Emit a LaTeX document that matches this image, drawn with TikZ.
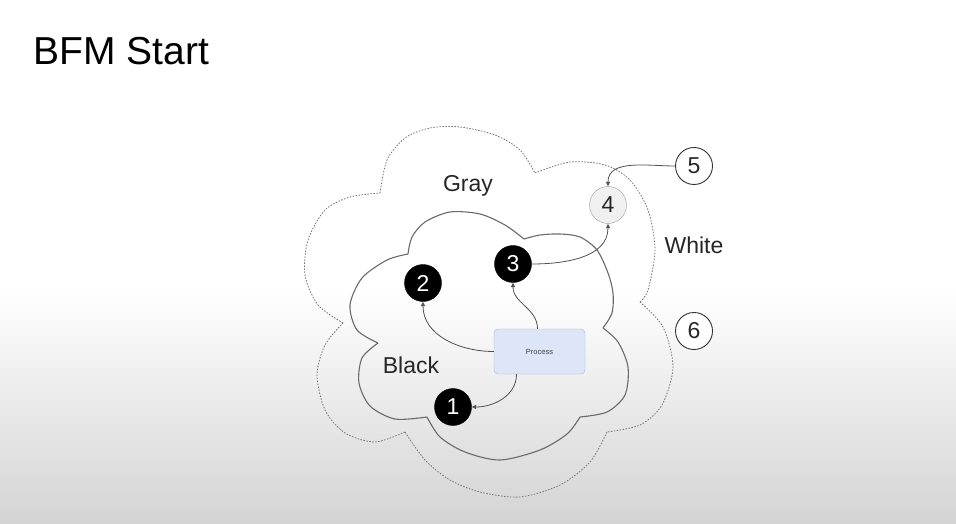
\documentclass[tikz,border=0pt]{standalone}
\usepackage{fontspec}
\setmainfont{Liberation Sans}
\usetikzlibrary{arrows.meta}
\definecolor{cloudgray}{HTML}{6A6A6A}
\definecolor{arrowgray}{HTML}{505050}
\definecolor{procfill}{HTML}{DCE6F8}
\definecolor{procdraw}{HTML}{A6B6D6}

\begin{document}
\begin{tikzpicture}[x=1pt,y=1pt,
	blacknode/.style = {circle, draw=black, fill=black, text=white, minimum size=37pt, inner sep=0pt, font=\fontsize{23}{23}\selectfont},
	graynode/.style = {circle, draw=black!40, fill=black!6, text=black!85, minimum size=37pt, inner sep=0pt, font=\fontsize{23}{23}\selectfont},
	whitenode/.style = {circle, draw=black!80, line width=0.9pt, fill=white, text=black!85, minimum size=37pt, inner sep=0pt, font=\fontsize{23}{23}\selectfont},
	area/.style = {anchor=base, text=black!85, font=\fontsize{23}{23}\selectfont},
	process/.style = {draw=procdraw, fill=procfill, rounded corners=4pt, minimum width=91pt, minimum height=45pt, text=black!75, font=\fontsize{7.5}{7.5}\selectfont},
	solidcloud/.style = {draw=cloudgray, line width=1.1pt},
	dashcloud/.style = {draw=black!55, line width=0.8pt, dash pattern=on 1.5pt off 1.5pt},
	link/.style = {draw=arrowgray, line width=0.8pt, -{Triangle[length=4.5pt,width=4pt]}}]
	\useasboundingbox (0,0) rectangle (956,-524);
	\fill[white] (0,0) rectangle (956,-291);
	\shade[top color=white, bottom color=black!17] (0,-290) rectangle (956,-524);

	\node[anchor=base west, font=\fontsize{39}{39}\selectfont] (title) at (30,-65) {BFM Start};

	\draw[dashcloud] plot[smooth] coordinates {(380,-193) (387,-160) (405,-138) (430,-128) (460,-127) (495,-135) (520,-150) (535,-173)};
	\draw[dashcloud] plot[smooth] coordinates {(535,-173) (570,-162) (605,-165) (630,-180) (648,-210) (655,-250) (648,-290) (640,-302)};
	\draw[dashcloud] plot[smooth] coordinates {(640,-302) (663,-327) (673,-367) (662,-405) (640,-425) (607,-432)};
	\draw[dashcloud] plot[smooth] coordinates {(607,-432) (590,-462) (560,-485) (520,-497) (480,-492) (450,-480) (425,-460) (405,-432)};
	\draw[dashcloud] plot[smooth] coordinates {(405,-432) (375,-442) (345,-433) (325,-410) (317,-375) (325,-345) (343,-323)};
	\draw[dashcloud] plot[smooth] coordinates {(343,-323) (318,-305) (305,-275) (308,-240) (325,-210) (350,-197) (380,-193)};

	\draw[solidcloud] plot[smooth] coordinates {(408,-254) (387,-260) (362,-278) (350,-305) (357,-330) (378,-343)};
	\draw[solidcloud] plot[smooth] coordinates {(378,-343) (362,-358) (359,-383) (370,-406) (395,-419) (427,-417)};
	\draw[solidcloud] plot[smooth] coordinates {(427,-417) (440,-437) (465,-452) (500,-460) (540,-450) (567,-434) (580,-417)};
	\draw[solidcloud] plot[smooth] coordinates {(580,-417) (607,-412) (625,-395) (628,-367) (618,-342) (603,-328)};
	\draw[solidcloud] plot[smooth] coordinates {(603,-328) (612,-313) (613,-293) (608,-273) (597,-250) (580,-237) (560,-234) (540,-235) (524,-239)};
	\draw[solidcloud] plot[smooth] coordinates {(524,-239) (505,-225) (480,-214) (450,-212) (425,-222) (412,-237) (408,-254)};

	\node[area] (gray) at (468,-192) {Gray};
	\node[area] (white) at (694,-253) {White};
	\node[area] (black) at (411,-373) {Black};

	\node[blacknode] (1) at (453,-407) {1};
	\node[blacknode] (2) at (423,-283) {2};
	\node[blacknode] (3) at (513,-264) {3};
	\node[graynode] (4) at (608,-205) {4};
	\node[whitenode] (5) at (694,-166) {5};
	\node[whitenode] (6) at (694,-331) {6};
	\node[process] (proc) at (539.5,-351.5) {Process};

	\draw[link] (proc.west) to[out=180, in=-90] (2);
	\draw[link] ([xshift=-2pt]proc.north) to[out=90, in=-90] (3);
	\draw[link] ([xshift=-23pt]proc.south) to[out=-90, in=0] (1);
	\draw[link] (3) to[out=0, in=-90] (4);
	\draw[link] (5) to[out=180, in=90] (4);
\end{tikzpicture}
\end{document}
